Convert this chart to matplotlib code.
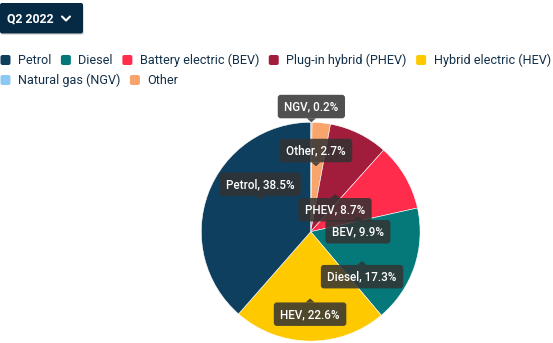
import matplotlib
matplotlib.use("Agg")
import numpy as np
import matplotlib.pyplot as plt
from matplotlib.patches import FancyBboxPatch, Polygon

plt.rcParams['font.family'] = ['Roboto', 'DejaVu Sans']

# fuel type shares, Q2 2022
fuels = ['Petrol', 'Diesel', 'Battery electric (BEV)', 'Plug-in hybrid (PHEV)',
         'Hybrid electric (HEV)', 'Natural gas (NGV)', 'Other']
short = ['Petrol', 'Diesel', 'BEV', 'PHEV', 'HEV', 'NGV', 'Other']
shares = [38.5, 17.3, 9.9, 8.7, 22.6, 0.2, 2.7]
colors = ['#0f3f5f', '#05797a', '#ff2c4b', '#a21c3c', '#ffc900', '#8dc8f0', '#f8a56d']

# clockwise from 12 o'clock
pie_order = ['NGV', 'Other', 'PHEV', 'BEV', 'Diesel', 'HEV', 'Petrol']

# tooltip placement: (clockwise nudge in degrees, radius fraction, box side)
tip_place = {
    'NGV': (0, 1.0, 'above'),
    'Other': (-1, 0.60, 'above'),
    'PHEV': (6.7, 0.41, 'below'),
    'BEV': (12, 0.455, 'below'),
    'Diesel': (11, 0.54, 'below'),
    'HEV': (0, 0.61, 'below'),
    'Petrol': (11.4, 0.545, 'above'),
}
tip_draw_order = ['Petrol', 'HEV', 'Diesel', 'BEV', 'PHEV', 'Other', 'NGV']

W, H = 553, 343
fig = plt.figure(figsize=(W / 100, H / 100), dpi=100)

# overlay in pixel units, y pointing down
ui = fig.add_axes([0, 0, 1, 1])
ui.set_xlim(0, W)
ui.set_ylim(H, 0)
ui.axis('off')
ui.set_zorder(2)

# pie
cx, cy, R = 310.7, 231.7, 109.4
pie_ax = fig.add_axes([(cx - R) / W, (H - cy - R) / H, 2 * R / W, 2 * R / H])
pie_ax.set_zorder(1)
idx = [short.index(s) for s in pie_order]
wedges, _ = pie_ax.pie([shares[i] for i in idx], colors=[colors[i] for i in idx],
                       startangle=90, counterclock=False, radius=1,
                       wedgeprops=dict(edgecolor='white', linewidth=0.4))
pie_ax.set_xlim(-1, 1)
pie_ax.set_ylim(-1, 1)
pie_ax.set_aspect('equal')
pie_ax.axis('off')

renderer = fig.canvas.get_renderer()

# dropdown button
ui.add_patch(FancyBboxPatch((1, 4.5), 83, 30.5, boxstyle='round,pad=0,rounding_size=2',
                            fc='#000000', ec='none', alpha=0.12))
ui.add_patch(FancyBboxPatch((0, 3), 83, 30.5, boxstyle='round,pad=0,rounding_size=2',
                            fc='#072a44', ec='none'))
ui.text(7, 18.5, 'Q2 2022', color='white', fontsize=8.8, fontweight='bold',
        ha='left', va='center')
ui.plot([62, 66, 70], [16.5, 20.5, 16.5], color='white', lw=1.5,
        solid_capstyle='round', solid_joinstyle='round')

# legend rows
legend_rows = [fuels[:5], fuels[5:]]
row_y = [60, 80]
for row, y in zip(legend_rows, row_y):
    x = 0.5
    for name in row:
        c = colors[fuels.index(name)]
        ui.add_patch(FancyBboxPatch((x, y - 5), 10, 10, boxstyle='round,pad=0,rounding_size=2',
                                    fc=c, ec='none'))
        t = ui.text(x + 17.5, y + 0.5, name, color='#13304a', fontsize=9.1,
                    ha='left', va='center')
        bb = t.get_window_extent(renderer)
        x = x + 17.5 + bb.width + 9.5

# tooltips
def pixel_of(px, py):
    dx, dy = pie_ax.transData.transform((px, py))
    return dx, H - dy

for name in tip_draw_order:
    w = wedges[pie_order.index(name)]
    mid = (w.theta1 + w.theta2) / 2
    nudge, rf, side = tip_place[name]
    ang = np.radians(mid - nudge)
    ax_, ay_ = pixel_of(rf * np.cos(ang), rf * np.sin(ang))
    val = shares[short.index(name)]
    label = f'{name}, {val}%'
    bh, tip = 23.5, 4
    if side == 'above':
        ty = ay_ - tip - bh / 2
    else:
        ty = ay_ + tip + bh / 2
    t = ui.text(ax_, ty + 0.5, label, color='white', fontsize=8.4, fontweight='medium',
                ha='center', va='center', zorder=5)
    bw = t.get_window_extent(renderer).width + 13
    box = FancyBboxPatch((ax_ - bw / 2, ty - bh / 2), bw, bh,
                         boxstyle='round,pad=0,rounding_size=3',
                         fc=(0.2, 0.2, 0.2, 0.86), ec='none', zorder=4)
    ui.add_patch(box)
    if side == 'above':
        tri = [(ax_ - 4.5, ay_ - tip), (ax_ + 4.5, ay_ - tip), (ax_, ay_)]
    else:
        tri = [(ax_ - 4.5, ay_ + tip), (ax_ + 4.5, ay_ + tip), (ax_, ay_)]
    ui.add_patch(Polygon(tri, closed=True, fc=(0.2, 0.2, 0.2, 0.86), ec='none', zorder=4))

fig.savefig('out.png', dpi=100)
